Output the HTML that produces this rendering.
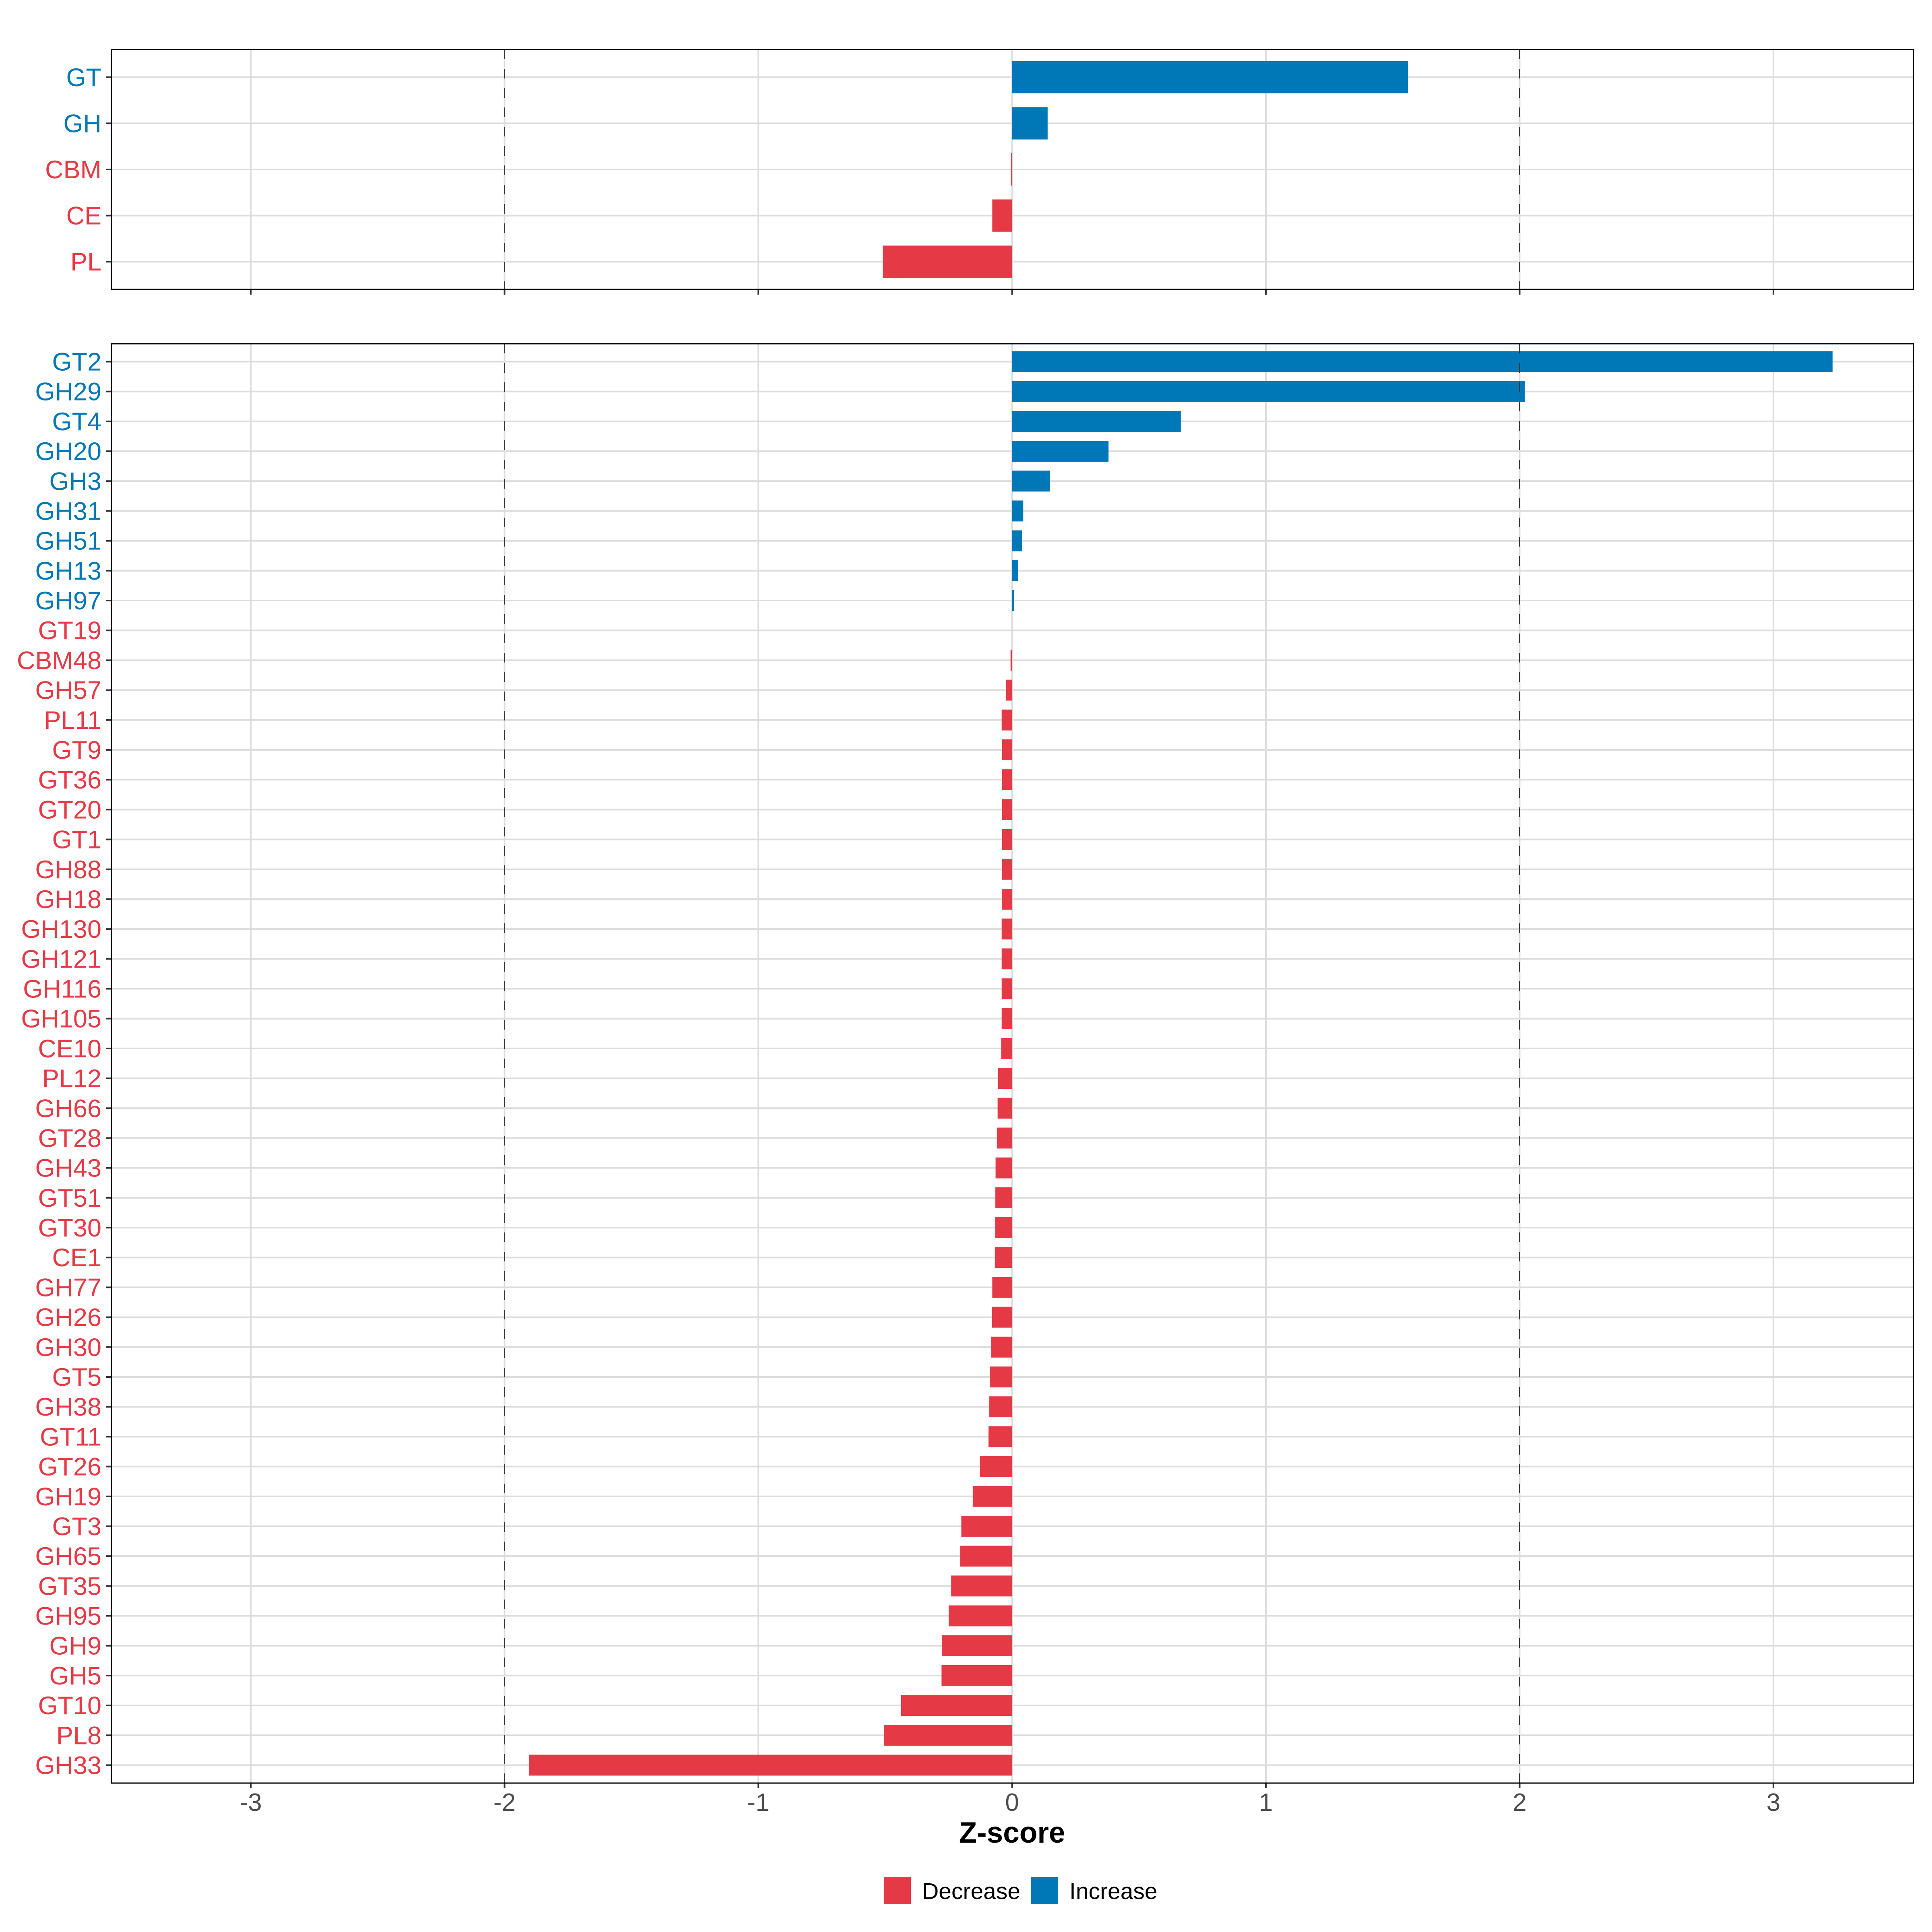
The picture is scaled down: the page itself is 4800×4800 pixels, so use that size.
<!DOCTYPE html>
<html><head><meta charset="utf-8"><style>
html,body{margin:0;padding:0;background:#fff;}
svg{display:block;font-family:"Liberation Sans",Arial,sans-serif;}
</style></head><body>
<svg id="chart" width="4800" height="4800" viewBox="0 0 4800 4800" xmlns="http://www.w3.org/2000/svg"></svg>
<script>
const topCats = ["GT","GH","CBM","CE","PL"];
const topVals = [1.56,0.14,-0.005,-0.078,-0.51];
const botCats = ["GT2","GH29","GT4","GH20","GH3","GH31","GH51","GH13","GH97","GT19","CBM48","GH57","PL11","GT9","GT36","GT20","GT1","GH88","GH18","GH130","GH121","GH116","GH105","CE10","PL12","GH66","GT28","GH43","GT51","GT30","CE1","GH77","GH26","GH30","GT5","GH38","GT11","GT26","GH19","GT3","GH65","GT35","GH95","GH9","GH5","GT10","PL8","GH33"];
const botVals = [3.233,2.02,0.665,0.38,0.15,0.044,0.039,0.024,0.008,0,-0.006,-0.024,-0.041,-0.039,-0.039,-0.039,-0.039,-0.04,-0.04,-0.041,-0.041,-0.041,-0.041,-0.043,-0.055,-0.057,-0.06,-0.065,-0.066,-0.067,-0.068,-0.078,-0.079,-0.083,-0.088,-0.09,-0.093,-0.127,-0.155,-0.2,-0.205,-0.24,-0.25,-0.277,-0.278,-0.437,-0.505,-1.903];
const xTicks = [-3,-2,-1,0,1,2,3];
const xTickLabels = ["-3","-2","-1","0","1","2","3"];
const dashedAt = [-2,2];

const NS="http://www.w3.org/2000/svg";
const svg=document.getElementById('chart');
const X0=2514.5, UNIT=630.5, PL=276.5, PR=4754;
function xs(v){return X0+v*UNIT;}
const RED="#E63946", BLUE="#0077B6";
function mk(tag,attrs,parent){const e=document.createElementNS(NS,tag);for(const k in attrs)e.setAttribute(k,attrs[k]);(parent||svg).appendChild(e);return e;}

function panel(cats,vals,top,bottom,name){
  const g=mk('g',{});
  
  
  const n=cats.length, step=(bottom-top)/(n-1+1.2);
  const ys=i=>top+0.6*step+i*step;
  xTicks.forEach(t=>{
    const l=mk('line',{x1:xs(t),x2:xs(t),y1:top,y2:bottom,stroke:"#DCDCDC","stroke-width":4},g);
    
    
  });
  cats.forEach((c,i)=>{
    const l=mk('line',{x1:PL,x2:PR,y1:ys(i),y2:ys(i),stroke:"#DCDCDC","stroke-width":4},g);
    
    
  });
  cats.forEach((c,i)=>{
    const v=vals[i], h=0.7*step;
    const col=v>0?BLUE:RED;
    const x=Math.min(xs(0),xs(v)), w=Math.abs(xs(v)-xs(0));
    const r=mk('rect',{x:x,y:ys(i)-h/2,width:w,height:h,fill:col},g);
    
    
    const lab=mk('text',{x:252,y:ys(i)+22,"text-anchor":"end","font-size":63,fill:col},g);
    lab.textContent=c;
    
    
    const tk=mk('line',{x1:264,x2:276.5,y1:ys(i),y2:ys(i),stroke:"#333","stroke-width":4},g);
    
    
  });
  dashedAt.forEach(d=>{
    const l=mk('line',{x1:xs(d),x2:xs(d),y1:top,y2:bottom,stroke:"#333","stroke-width":3,"stroke-dasharray":"24,24"},g);
    
    
  });
  xTicks.forEach(t=>{
    const l=mk('line',{x1:xs(t),x2:xs(t),y1:bottom,y2:bottom+13,stroke:"#333","stroke-width":4},g);
    
    
  });
  const b=mk('rect',{x:PL,y:top,width:PR-PL,height:bottom-top,fill:"none",stroke:"#000","stroke-width":3},g);
  
  
}
panel(topCats,topVals,123,719,'top-panel');
panel(botCats,botVals,854,4430,'bottom-panel');

xTicks.forEach((t,i)=>{
  const tx=mk('text',{x:xs(t),y:4499,"text-anchor":"middle","font-size":62,fill:"#4D4D4D"});
  tx.textContent=xTickLabels[i];
  
  
});
const ttl=mk('text',{x:X0,y:4578,"text-anchor":"middle","font-size":73,"font-weight":"bold",fill:"#000"});
ttl.textContent="Z-score";



const lg=mk('g',{});


const k1=mk('rect',{x:2196,y:4663,width:67,height:68,fill:RED},lg);


const t1=mk('text',{x:2291,y:4718,"font-size":57,fill:"#000"},lg);
t1.textContent="Decrease";


const k2=mk('rect',{x:2561,y:4663,width:68,height:68,fill:BLUE},lg);


const t2=mk('text',{x:2657,y:4718,"font-size":57,fill:"#000"},lg);
t2.textContent="Increase";


</script>
</body></html>
